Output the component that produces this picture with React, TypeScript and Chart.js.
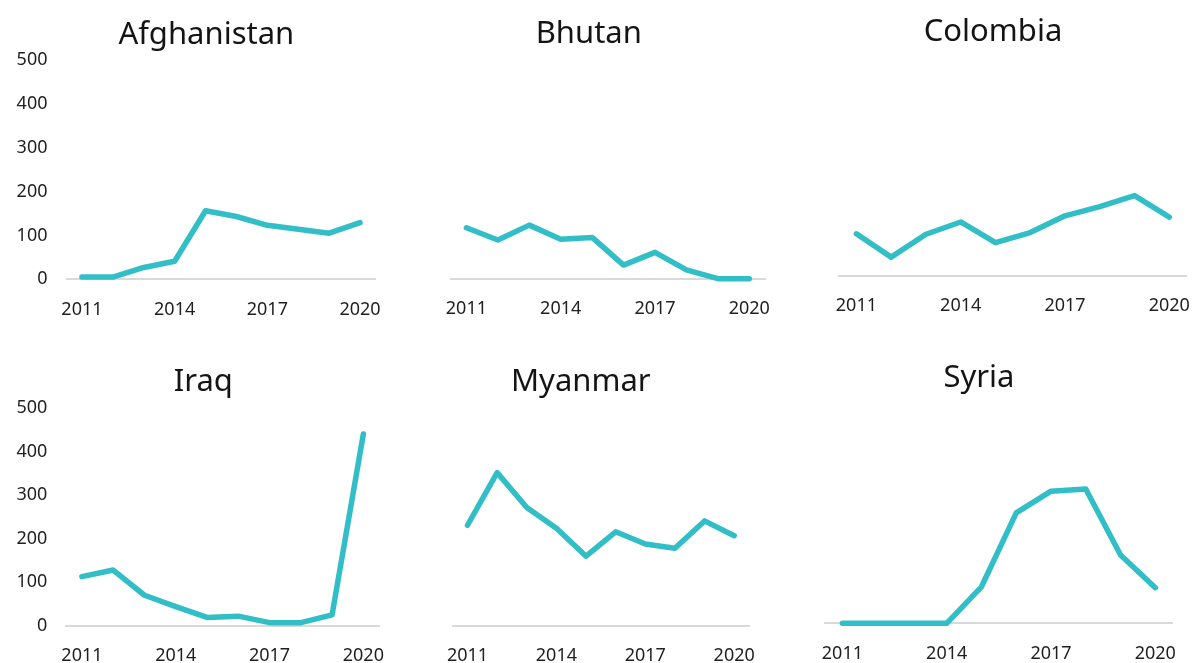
import React, { useEffect, useRef } from "react";
import { Chart, registerables } from "chart.js";

Chart.register(...registerables);

// ---------- data ----------
const years = ["2011", "2012", "2013", "2014", "2015", "2016", "2017", "2018", "2019", "2020"];
const shownYears = ["2011", "2014", "2017", "2020"];
const yTickValues = [0, 100, 200, 300, 400, 500];

const afghanistan = [5, 5, 27, 41, 156, 143, 123, 114, 105, 129];
const bhutan = [116, 88, 122, 90, 94, 31, 60, 20, 0, 0];
const colombia = [96, 43, 95, 123, 76, 99, 137, 158, 183, 134];
const iraq = [113, 128, 70, 44, 19, 22, 7, 7, 25, 441];
const myanmar = [231, 352, 272, 224, 160, 216, 188, 178, 241, 207];
const syria = [0, 0, 0, 0, 84, 254, 304, 309, 157, 82];

// ---------- styles / layout ----------
const FONT = "'Noto Sans', 'Open Sans', sans-serif";
const LINE_COLOR = "#32BEC6";
const AXIS_COLOR = "#d9d9d9";
const TEXT_COLOR = "#1f1f1f";
const TITLE_COLOR = "#141414";
const TITLE_SIZE = 31;
const TITLE_LINE = TITLE_SIZE * 1.2;
const TITLE_PAD_TOP = 16.4;
const X_AXIS_H = 37;

type Panel = {
  title: string;
  values: number[];
  showY: boolean;
  cL: number;
  cR: number;
  cT: number;
  cB: number;
  titleX: number;
  titleBase: number;
  rightGap: number;
};

const panels: Panel[] = [
  { title: "Afghanistan", values: afghanistan, showY: true, cL: 66.5, cR: 375.5, cT: 59.7, cB: 279.3, titleX: 206.3, titleBase: 45, rightGap: 29 },
  { title: "Bhutan", values: bhutan, showY: false, cL: 450.7, cR: 765, cT: 59.1, cB: 278.7, titleX: 588.8, titleBase: 44.3, rightGap: 15 },
  { title: "Colombia", values: colombia, showY: false, cL: 839, cR: 1186.7, cT: 56.4, cB: 276, titleX: 993, titleBase: 41.7, rightGap: 8 },
  { title: "Iraq", values: iraq, showY: true, cL: 66.3, cR: 379, cT: 408.3, cB: 625.7, titleX: 203.3, titleBase: 391.7, rightGap: 19 },
  { title: "Myanmar", values: myanmar, showY: false, cL: 452.7, cR: 749, cT: 408.3, cB: 625.7, titleX: 580.8, titleBase: 391.7, rightGap: 15 },
  { title: "Syria", values: syria, showY: false, cL: 825, cR: 1172.7, cT: 406, cB: 623.3, titleX: 979, titleBase: 387.7, rightGap: 10 },
];

function PanelChart({ p }: { p: Panel }) {
  const ref = useRef<HTMLCanvasElement | null>(null);
  const R = p.cR + p.rightGap;
  const L = 2 * p.titleX - R;
  const T = p.titleBase - 45;
  const B = p.cB + X_AXIS_H;
  const Lr = Math.floor(L);
  const Rr = Math.ceil(R);
  const Tr = Math.floor(T);
  const Br = Math.ceil(B);
  const W = Rr - Lr;
  const H = Br - Tr;

  useEffect(() => {
    if (!ref.current) return;
    const chart = new Chart(ref.current, {
      type: "line",
      data: {
        labels: years,
        datasets: [
          {
            data: p.values,
            borderColor: LINE_COLOR,
            backgroundColor: LINE_COLOR,
            borderWidth: 5.5,
            pointRadius: 0,
            pointHoverRadius: 0,
            tension: 0,
            fill: false,
            borderCapStyle: "round",
            borderJoinStyle: "round",
            clip: false,
            yAxisID: "y",
          } as any,
        ],
      },
      options: {
        responsive: false,
        maintainAspectRatio: false,
        animation: false,
        devicePixelRatio: 1,
        events: [],
        layout: {
          padding: { left: L - Lr, right: Rr - R, top: T - Tr, bottom: Br - B },
        },
        plugins: {
          legend: { display: false },
          tooltip: { enabled: false },
          title: {
            display: true,
            text: p.title,
            color: TITLE_COLOR,
            font: { family: FONT, size: TITLE_SIZE, weight: "normal", lineHeight: 1.2 },
            padding: { top: TITLE_PAD_TOP, bottom: p.cT - T - TITLE_PAD_TOP - TITLE_LINE },
          },
        },
        scales: {
          x: {
            type: "category",
            offset: true,
            grid: { display: false, drawTicks: false },
            border: { display: true, color: AXIS_COLOR, width: 2 },
            ticks: {
              autoSkip: false,
              maxRotation: 0,
              minRotation: 0,
              padding: 19.5,
              color: TEXT_COLOR,
              font: { family: FONT, size: 18 },
              callback: (_v: any, i: number) => (shownYears.includes(years[i]) ? years[i] : ""),
            },
            afterFit: (s: any) => {
              s.height = X_AXIS_H;
              s.paddingLeft = 0;
              s.paddingRight = 0;
            },
          },
          y: {
            type: "linear",
            position: "left",
            min: 0,
            max: 500,
            grid: { display: false, drawTicks: false },
            border: { display: false },
            afterBuildTicks: (s: any) => {
              s.ticks = yTickValues.map((v) => ({ value: v }));
            },
            ticks: {
              display: p.showY,
              padding: 19,
              color: TEXT_COLOR,
              font: { family: FONT, size: 18 },
            },
            afterFit: (s: any) => {
              s.width = p.cL - L;
              s.paddingTop = 0;
              s.paddingBottom = 0;
            },
          },
          yR: {
            type: "linear",
            position: "right",
            min: 0,
            max: 500,
            grid: { display: false, drawTicks: false },
            border: { display: false },
            ticks: { display: false },
            afterFit: (s: any) => {
              s.width = p.rightGap;
              s.paddingTop = 0;
              s.paddingBottom = 0;
            },
          },
        },
      } as any,
    });
    return () => chart.destroy();
  }, []);

  return (
    <canvas
      ref={ref}
      width={W}
      height={H}
      style={{ position: "absolute", left: Lr, top: Tr, width: W, height: H }}
    />
  );
}

export default function App() {
  return (
    <div
      style={{
        position: "fixed",
        left: 0,
        top: 0,
        width: 1194,
        height: 663,
        background: "#ffffff",
        overflow: "hidden",
      }}
    >
      {panels.map((p) => (
        <PanelChart key={p.title} p={p} />
      ))}
    </div>
  );
}
